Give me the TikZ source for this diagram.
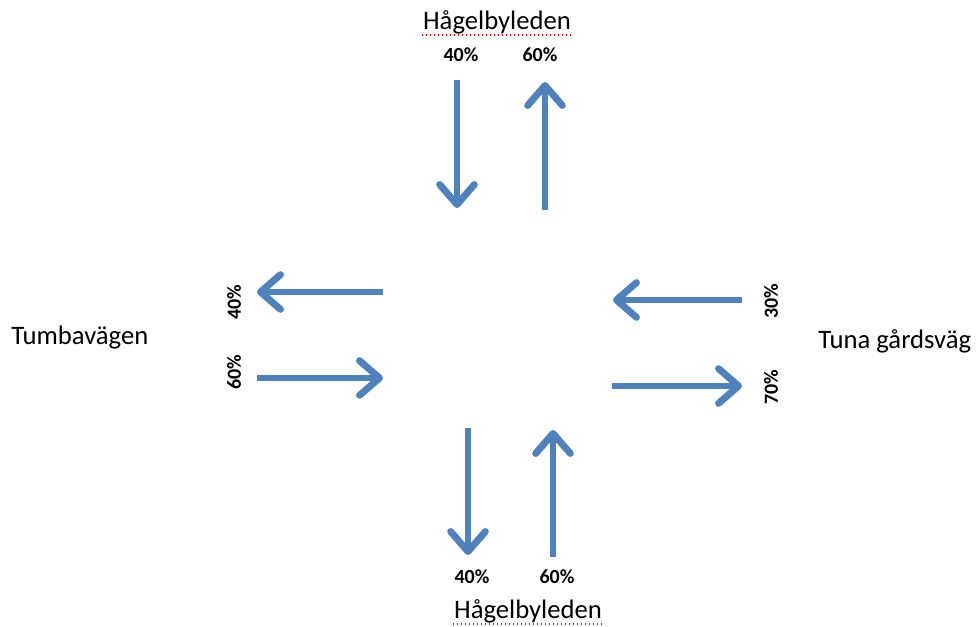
\documentclass[tikz,border=0pt]{standalone}
\usepackage{fontspec}
\setmainfont{Carlito}
\usetikzlibrary{arrows.meta}
\definecolor{flowblue}{RGB}{79,129,189}
\tikzset{
  flow/.style={color=flowblue, line width=5.2pt, -{Straight Barb[length=15pt,width=26pt,round]}},
  road/.style={inner sep=0.75pt, font=\fontsize{20}{24}\selectfont},
  share/.style={inner sep=0.75pt, font=\bfseries\fontsize{15}{18}\selectfont},
  spell/.style={color=red, line width=1pt, dotted},
}
\begin{document}
\begin{tikzpicture}[x=0.75pt,y=0.75pt,yscale=-1,xscale=1]
\useasboundingbox (0,0) rectangle (979,627);

%Straight Lines: north leg
\coordinate (nin) at (457,80);  \coordinate (nin2) at (457,208);
\coordinate (nout) at (545,210); \coordinate (nout2) at (545,82);
\draw [flow] (nin) -- (nin2);
\draw [flow] (nout) -- (nout2);
%Straight Lines: west leg
\coordinate (wout) at (383,292); \coordinate (wout2) at (257,292);
\coordinate (win) at (257,378);  \coordinate (win2) at (383,378);
\draw [flow] (wout) -- (wout2);
\draw [flow] (win) -- (win2);
%Straight Lines: east leg
\coordinate (ein) at (742,300);  \coordinate (ein2) at (613,300);
\coordinate (eout) at (612,386); \coordinate (eout2) at (742,386);
\draw [flow] (ein) -- (ein2);
\draw [flow] (eout) -- (eout2);
%Straight Lines: south leg
\coordinate (sout) at (468,428); \coordinate (sout2) at (468,555);
\coordinate (sin) at (553,557);  \coordinate (sin2) at (553,430);
\draw [flow] (sout) -- (sout2);
\draw [flow] (sin) -- (sin2);

% Text Node
\node [road] (north) at (497,22) {Hågelbyleden};
\draw [spell] (north.south west) -- (north.south east);
% Text Node
\node [road] (south) at (528,611) {Hågelbyleden};
\draw [spell] (south.south west) -- (south.south east);
% Text Node
\node [road, anchor=west] (west) at (10,338) {Tumbavägen};
% Text Node
\node [road, anchor=west] (east) at (817,341) {Tuna gårdsväg};

% Text Node
\node [share] (n40) at (461,55) {40\%};
\node [share] (n60) at (540,55) {60\%};
% Text Node
\node [share] (s40) at (472,577) {40\%};
\node [share] (s60) at (557,577) {60\%};
% Text Node
\node [share, rotate=90] (w40) at (234,302) {40\%};
\node [share, rotate=90] (w60) at (234,372) {60\%};
% Text Node
\node [share, rotate=90] (e30) at (771,301) {30\%};
\node [share, rotate=90] (e70) at (771,387) {70\%};

\end{tikzpicture}
\end{document}
